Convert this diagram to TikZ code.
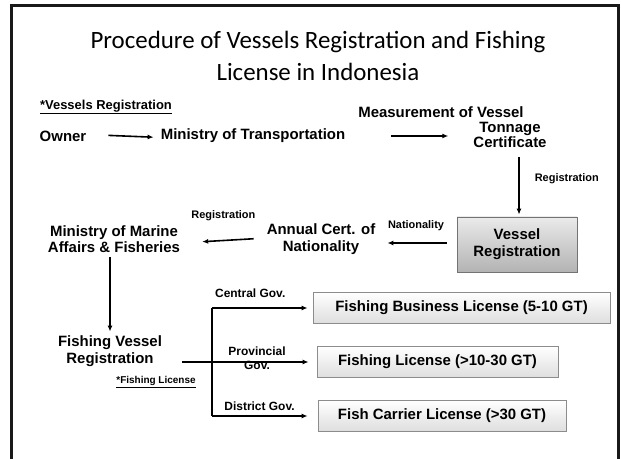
\documentclass[tikz,border=0pt]{standalone}
\usepackage{fontspec}
\setmainfont{Liberation Sans}
\newfontfamily\titlefont{Carlito}
\usetikzlibrary{arrows.meta}

\begin{document}
\begin{tikzpicture}[x=1bp,y=-1bp,
        lbl/.style={font=\fontsize{15}{16.5}\selectfont\bfseries, inner sep=0pt, align=center},
        small/.style={font=\fontsize{11}{12}\selectfont\bfseries, inner sep=0pt, align=center},
        gov/.style={font=\fontsize{12}{14}\selectfont\bfseries, inner sep=0pt, align=center},
        arr/.style={-{Latex[length=6bp,width=5bp]}, line width=1.6bp},
        licbox/.style={draw=black!45, line width=0.8bp, top color=white, bottom color=black!13,
                       minimum height=31bp, font=\fontsize{15}{18}\selectfont\bfseries},
        regbox/.style={draw=black!55, line width=0.8bp, top color=black!8, bottom color=black!30,
                       minimum width=120bp, minimum height=55bp, align=center,
                       font=\fontsize{15}{17}\selectfont\bfseries}]
    \useasboundingbox (0,0) rectangle (621,459);
    \draw[line width=3bp, black!90] (11.5,462) |- (618.5,5.5) -- (618.5,462); % frame

    % title
    \node[font=\titlefont\fontsize{25}{32}\selectfont, align=center] (title) at (318,56)
        {Procedure of Vessels Registration and Fishing\\License in Indonesia};

    % vessels registration
    \node[font=\fontsize{13}{14}\selectfont\bfseries, inner sep=0pt] (vrhead) at (106,107) {\underline{*Vessels Registration}};
    \node[lbl] (owner) at (63,136) {Owner};
    \node[lbl] (mintrans) at (253,136) {Ministry of Transportation};
    \node[lbl] (measure) at (441,112) {Measurement of Vessel};
    \node[lbl, font=\fontsize{15}{15}\selectfont\bfseries] (tonnage) at (510,134.5) {Tonnage\\Certificate};
    \node[regbox] (vesreg) at (517,244.5) {Vessel\\Registration};
    \node[lbl] (annual) at (321,239) {Annual Cert. of\\Nationality};
    \node[lbl] (mmaf) at (114,239) {Ministry of Marine\\Affairs \& Fisheries};

    \draw[arr, shorten <=22bp, shorten >=7bp] ([yshift=1.5bp]owner.east) -- ([yshift=-1.5bp]mintrans.west);
    \draw[arr, shorten <=46bp, shorten >=25bp] (mintrans.east) -- (mintrans.east -| tonnage.west);
    \draw[arr, shorten <=10bp, shorten >=2bp] ([xshift=2bp]vesreg.north |- tonnage.south) -- ([xshift=2bp]vesreg.north)
        node[small, pos=0.45, right=15bp] {Registration};
    \draw[arr, shorten <=10bp, shorten >=12bp] ([yshift=1.5bp]vesreg.west) -- ([yshift=1.5bp]vesreg.west -| annual.east)
        node[small, pos=0.5, above=11bp] {Nationality};
    \draw[arr, shorten <=13bp, shorten >=22bp] ([yshift=1bp]annual.west) -- ([yshift=-4bp]mmaf.east)
        node[small, pos=0.5, above=19bp] {Registration};

    % fishing license
    \node[lbl] (fvreg) at (110,351) {Fishing Vessel\\Registration};
    \node[font=\fontsize{10}{11}\selectfont\bfseries, inner sep=0pt] (flhead) at (156,382) {\underline{*Fishing License}};
    \node[licbox, minimum width=297bp] (biz) at (461.5,308) {Fishing Business License (5-10 GT)};
    \node[licbox, minimum width=241bp] (fishlic) at (437.5,362) {Fishing License (>10-30 GT)};
    \node[licbox, minimum width=248bp] (carrier) at (442,416) {Fish Carrier License (>30 GT)};
    \coordinate (split) at (212,362);

    \draw[arr, shorten <=4bp, shorten >=4bp] ([xshift=-4bp]mmaf.south) -- ([xshift=-4bp]mmaf.south |- fvreg.north);
    \draw[line width=1.6bp] (split |- biz.west) -- (split |- carrier.west);
    \draw[arr, shorten >=5bp] (split |- biz.west) -- (biz.west)
        node[gov, pos=0.38, above=10bp] {Central Gov.};
    \draw[arr, shorten <=20bp, shorten >=8bp] (fvreg.east |- fishlic.west) -- (fishlic.west);
    \node[gov] (prov) at (257,358) {Provincial\\Gov.};
    \draw[arr, shorten >=10bp] (split |- carrier.west) -- (carrier.west)
        node[gov, pos=0.45, above=5bp] {District Gov.};
\end{tikzpicture}
\end{document}
